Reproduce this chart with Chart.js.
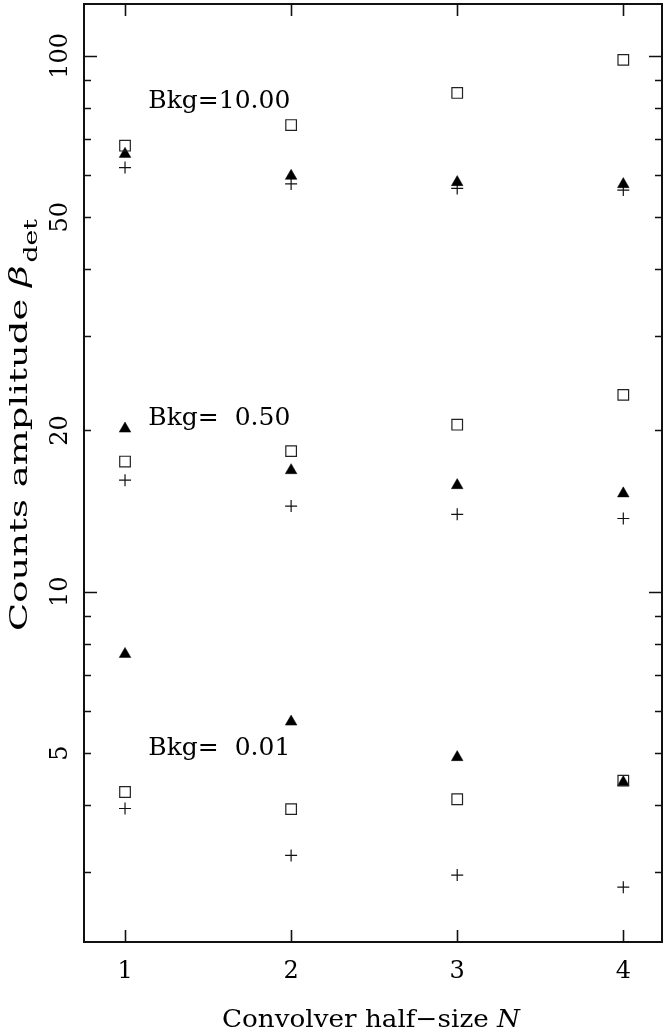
<!DOCTYPE html>
<html>
<head>
<meta charset="utf-8">
<title>Counts amplitude vs convolver half-size</title>
<script src="https://cdn.jsdelivr.net/npm/chart.js@4/dist/chart.umd.min.js"></script>
<style>
  html, body { margin: 0; padding: 0; background: #ffffff; overflow: hidden; }
  #wrap { position: relative; width: 664px; height: 1035px; }
  canvas { display: block; }
</style>
</head>
<body>
<div id="wrap"><canvas id="chart"></canvas></div>
<script>
// Convolver half-size N
const nValues = [1, 2, 3, 4];

// Counts amplitude per background level, one array per marker type
const squares10    = [68.0, 74.3, 85.3, 98.3];
const triangles10  = [65.6, 59.7, 58.1, 57.6];
const crosses10    = [61.9, 57.7, 56.6, 56.2];

const squares05    = [17.5, 18.3, 20.5, 23.3];
const triangles05  = [20.15, 16.85, 15.8, 15.25];
const crosses05    = [16.15, 14.45, 13.95, 13.7];

const squares001   = [4.23, 3.93, 4.10, 4.44];
const triangles001 = [7.65, 5.72, 4.91, 4.41];
const crosses001   = [3.94, 3.22, 2.96, 2.81];

// Background annotations and their anchor (N, amplitude)
const bkgLabels = ['Bkg=10.00', 'Bkg=\u20070.50', 'Bkg=\u20070.01'];
const bkgLabelX = [1.14, 1.14, 1.14];
const bkgLabelY = [80, 20.5, 4.95];

// Axis ticks
const xTicks = [1, 2, 3, 4];
const yLabelTicks = [5, 10, 20, 50, 100];
const yMajorTicks = [10, 100];
const yMinorTicks = [3, 4, 5, 6, 7, 8, 9, 20, 30, 40, 50, 60, 70, 80, 90];

const FONT = '"DejaVu Serif", "Liberation Serif", serif';

function pts(ys) {
  return nValues.map((n, i) => ({ x: n, y: ys[i] }));
}

function squareSet(ys) {
  return { data: pts(ys), pointStyle: 'rect', pointRadius: 7.5, pointBorderWidth: 1.2,
           pointBorderColor: '#222', pointBackgroundColor: 'rgba(255,255,255,0)' };
}
function triangleSet(ys) {
  return { data: pts(ys), pointStyle: 'triangle', pointRadius: 6.7, pointBorderWidth: 0.5,
           pointBorderColor: '#000', pointBackgroundColor: '#000' };
}
function crossSet(ys) {
  return { data: pts(ys), pointStyle: 'cross', pointRadius: 6, pointBorderWidth: 1.2,
           pointBorderColor: '#111', pointBackgroundColor: '#111' };
}

// Draws a run of [text, font, dy] pieces stretched to a given total length
function drawRun(ctx, pieces, length) {
  let natural = 0;
  const widths = pieces.map(p => {
    ctx.font = p[1];
    const w = ctx.measureText(p[0]).width + (p[3] || 0);
    natural += w;
    return w;
  });
  const k = length / natural;
  ctx.scale(k, 1);
  let x = -natural / 2;
  pieces.forEach((p, i) => {
    ctx.font = p[1];
    ctx.fillText(p[0], x, p[2]);
    x += widths[i];
  });
}

// Frame, inward ticks and all text, placed through the chart's scales
const framePlugin = {
  id: 'frameAndText',
  afterDraw(chart) {
    const ctx = chart.ctx;
    const a = chart.chartArea;
    const xs = chart.scales.x;
    const ys = chart.scales.y;
    ctx.save();
    ctx.strokeStyle = '#111';
    ctx.fillStyle = '#000';

    // frame
    ctx.lineWidth = 2;
    ctx.strokeRect(a.left, a.top, a.right - a.left, a.bottom - a.top);

    // ticks
    ctx.lineWidth = 1.6;
    ctx.beginPath();
    xTicks.forEach(v => {
      const px = Math.round(xs.getPixelForValue(v)) + 0.5;
      ctx.moveTo(px, a.bottom); ctx.lineTo(px, a.bottom - 12);
      ctx.moveTo(px, a.top); ctx.lineTo(px, a.top + 12);
    });
    yMajorTicks.forEach(v => {
      const py = Math.round(ys.getPixelForValue(v)) + 0.5;
      ctx.moveTo(a.left, py); ctx.lineTo(a.left + 13, py);
      ctx.moveTo(a.right, py); ctx.lineTo(a.right - 13, py);
    });
    yMinorTicks.forEach(v => {
      const py = Math.round(ys.getPixelForValue(v)) + 0.5;
      ctx.moveTo(a.left, py); ctx.lineTo(a.left + 7, py);
      ctx.moveTo(a.right, py); ctx.lineTo(a.right - 7, py);
    });
    ctx.stroke();

    // x tick labels
    ctx.font = '24px ' + FONT;
    ctx.textAlign = 'center';
    ctx.textBaseline = 'alphabetic';
    xTicks.forEach(v => {
      ctx.fillText(String(v), xs.getPixelForValue(v), a.bottom + 36);
    });

    // y tick labels, rotated
    yLabelTicks.forEach(v => {
      ctx.save();
      ctx.translate(a.left - 17, ys.getPixelForValue(v));
      ctx.rotate(-Math.PI / 2);
      ctx.fillText(String(v), 0, 0);
      ctx.restore();
    });

    // background annotations
    ctx.textAlign = 'left';
    ctx.font = '25px ' + FONT;
    bkgLabels.forEach((t, i) => {
      ctx.fillText(t, xs.getPixelForValue(bkgLabelX[i]), ys.getPixelForValue(bkgLabelY[i]));
    });

    // x axis title with italic N
    ctx.save();
    ctx.translate((a.left + a.right) / 2 - 2, 1027);
    drawRun(ctx, [
      ['Convolver half\u2212size ', '25px ' + FONT, 0],
      ['N', 'italic 25px ' + FONT, 0]
    ], 298);
    ctx.restore();

    // y axis title: Counts amplitude beta_det
    ctx.save();
    ctx.translate(27, 425);
    ctx.rotate(-Math.PI / 2);
    drawRun(ctx, [
      ['Counts amplitude ', '25px ' + FONT, 0],
      ['\u03B2', 'italic 25px ' + FONT, 0, 2],
      ['det', '18px ' + FONT, 10]
    ], 412);
    ctx.restore();

    ctx.restore();
  }
};

new Chart(document.getElementById('chart'), {
  type: 'scatter',
  data: {
    datasets: [
      squareSet(squares10), triangleSet(triangles10), crossSet(crosses10),
      squareSet(squares05), triangleSet(triangles05), crossSet(crosses05),
      squareSet(squares001), triangleSet(triangles001), crossSet(crosses001)
    ]
  },
  options: {
    responsive: true,
    maintainAspectRatio: false,
    animation: false,
    devicePixelRatio: 1,
    layout: { autoPadding: false, padding: { left: 84, top: 4, right: 2, bottom: 93 } },
    plugins: { legend: { display: false }, tooltip: { enabled: false } },
    scales: {
      x: { type: 'linear', min: 0.753, max: 4.233, display: false },
      y: { type: 'logarithmic', min: 2.22, max: 125, display: false }
    }
  },
  plugins: [framePlugin]
});
</script>
</body>
</html>
